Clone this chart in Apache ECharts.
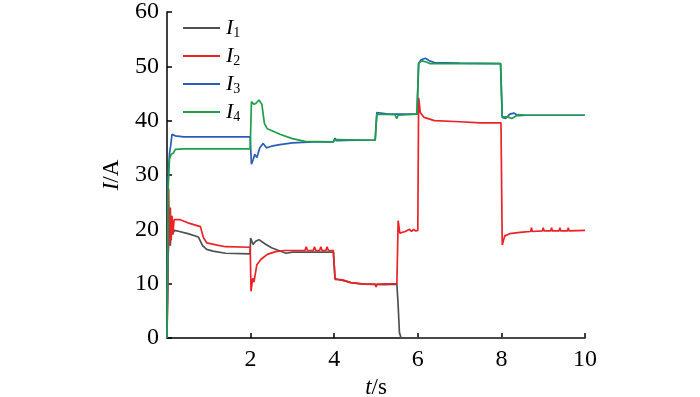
<!DOCTYPE html>
<html>
<head>
<meta charset="utf-8">
<style>
    html, body { margin: 0; padding: 0; background: #fff; }
    #chart { width: 700px; height: 397px; }
</style>
<script src="https://cdn.jsdelivr.net/npm/echarts@6/dist/echarts.min.js"></script>
</head>
<body>
<div id="chart"></div>
<script>
// 数据 [t(s), I(A)]
var seriesNames = ['I1', 'I2', 'I3', 'I4'];
var xTicks = [0, 2, 4, 6, 8, 10];
var yTicks = [0, 10, 20, 30, 40, 50, 60];

var i1Data = [
    [0, 0], [0.02, 14], [0.05, 19], [0.08, 17], [0.1, 20.5], [0.13, 19.2], [0.18, 19.8],
    [0.3, 19.6], [0.5, 19.2], [0.75, 18.6], [0.85, 17], [0.95, 16.3], [1.1, 16], [1.4, 15.6],
    [1.99, 15.5], [2.0, 18.4], [2.06, 17.2], [2.12, 17.8], [2.2, 18.1], [2.35, 17.3],
    [2.5, 16.6], [2.7, 16], [2.85, 15.6], [3.0, 15.8], [3.5, 15.8], [3.98, 15.8],
    [4.02, 10.9], [4.2, 10.6], [4.4, 10.2], [4.7, 9.9], [5.2, 9.8], [5.5, 9.9],
    [5.53, 6], [5.56, 1], [5.6, 0], [10, 0]
];
var i2Data = [
    [0, 0], [0.02, 10], [0.04, 27.5], [0.06, 17], [0.08, 24], [0.1, 18], [0.12, 22.5],
    [0.14, 19], [0.17, 21.8], [0.2, 21.5], [0.3, 21.8], [0.5, 21.2], [0.8, 20.5],
    [0.87, 18.5], [0.95, 17.5], [1.2, 17.1], [1.4, 16.8], [1.99, 16.7], [2.01, 8.6],
    [2.05, 11], [2.08, 10.3], [2.15, 13.5], [2.25, 14.5], [2.4, 15.4], [2.6, 15.9],
    [2.8, 16.1], [3.3, 16.1], [3.33, 16.8], [3.36, 16.1], [3.5, 16.1], [3.53, 16.8],
    [3.56, 16.1], [3.65, 16.1], [3.68, 16.8], [3.71, 16.1], [3.8, 16.1], [3.83, 16.8],
    [3.86, 16.1], [3.98, 16.1], [4.02, 10.8], [4.2, 10.7], [4.4, 10.2], [4.7, 9.9],
    [4.98, 9.9], [5.0, 9.4], [5.03, 9.9], [5.5, 10], [5.53, 21.6], [5.57, 19.3],
    [5.7, 19.6], [5.8, 20], [5.85, 19.6], [5.9, 20], [5.95, 19.7], [6.0, 19.8],
    [6.02, 44.2], [6.06, 41.5], [6.15, 40.6], [6.4, 40], [7, 39.8], [7.5, 39.6],
    [7.99, 39.6], [8.02, 17.1], [8.08, 18.8], [8.2, 19.2], [8.5, 19.5], [8.7, 19.6],
    [8.72, 20.3], [8.74, 19.6], [8.98, 19.7], [9.0, 20.3], [9.02, 19.7], [9.18, 19.7],
    [9.2, 20.3], [9.22, 19.7], [9.38, 19.7], [9.4, 20.3], [9.42, 19.7], [9.58, 19.7],
    [9.6, 20.3], [9.62, 19.7], [10, 19.8]
];
var i3Data = [
    [0, 0], [0.03, 30], [0.06, 34], [0.09, 35.5], [0.12, 37.5], [0.2, 37.2], [0.4, 37],
    [1.99, 37], [2.02, 32], [2.06, 32.8], [2.1, 33.8], [2.15, 33.2], [2.22, 35],
    [2.3, 35.8], [2.38, 35], [2.5, 35.3], [2.7, 35.6], [3.0, 35.9], [3.5, 36.1],
    [3.98, 36.1], [4.02, 36.8], [4.05, 36.3], [4.5, 36.4], [4.98, 36.4], [5.02, 41.5],
    [5.3, 41.2], [5.98, 41.2], [6.02, 50.5], [6.08, 51.2], [6.18, 51.5], [6.28, 51],
    [6.4, 50.7], [7, 50.6], [7.98, 50.5], [8.02, 40.6], [8.1, 40.4], [8.2, 41.2],
    [8.3, 41.4], [8.4, 40.9], [8.6, 41], [10, 41]
];
var i4Data = [
    [0, 0], [0.03, 28], [0.06, 33], [0.1, 33.8], [0.15, 34], [0.2, 34.7], [0.4, 34.8],
    [1.99, 34.8], [2.02, 43.5], [2.08, 43], [2.13, 43.2], [2.2, 43.8], [2.27, 43],
    [2.33, 39.5], [2.4, 38.5], [2.5, 38.2], [2.7, 37.5], [3.0, 36.7], [3.3, 36.2],
    [3.98, 36.1], [4.02, 36.5], [4.98, 36.4], [5.02, 41.2], [5.45, 41.1], [5.5, 40.4],
    [5.53, 41], [5.98, 41.2], [6.02, 50.6], [6.1, 51], [6.2, 50.8], [6.3, 50.5],
    [7, 50.5], [7.98, 50.5], [8.02, 40.7], [8.15, 40.7], [8.25, 40.4], [8.4, 41.1],
    [8.6, 41], [10, 41]
];

var colors = ['#505050', '#ec2227', '#2b5cb8', '#1d9e4b'];
var serifFont = '"Liberation Serif", "Times New Roman", serif';

var myChart = echarts.init(document.getElementById('chart'));

function axisBase() {
    return {
        type: 'value',
        splitLine: { show: false },
        axisLine: { lineStyle: { color: '#000', width: 1.5 } },
        axisTick: { inside: true, length: 5, lineStyle: { color: '#000', width: 1.5 } },
        axisLabel: { color: '#000', fontSize: 24, fontFamily: serifFont },
        nameTextStyle: {
            color: '#000', fontSize: 23, fontFamily: serifFont,
            rich: { i: { fontStyle: 'italic', fontSize: 23, fontFamily: serifFont, color: '#000' } }
        }
    };
}

var xAxis = axisBase();
xAxis.min = xTicks[0];
xAxis.max = xTicks[xTicks.length - 1];
xAxis.interval = 2;
xAxis.name = '{i|t}/s';
xAxis.nameLocation = 'middle';
xAxis.nameGap = 36;
xAxis.axisLabel.margin = 10;
xAxis.axisLabel.formatter = function (v) { return v === 0 ? '' : v; };

var yAxis = axisBase();
yAxis.min = yTicks[0];
yAxis.max = yTicks[yTicks.length - 1];
yAxis.interval = 10;
yAxis.name = '{i|I}/A';
yAxis.nameLocation = 'middle';
yAxis.nameRotate = 90;
yAxis.nameGap = 44;
yAxis.axisLabel.margin = 8;

var dataList = [i1Data, i2Data, i3Data, i4Data];
var series = seriesNames.map(function (n, k) {
    return {
        type: 'line',
        name: n,
        data: dataList[k],
        showSymbol: false,
        symbol: 'none',
        lineStyle: { width: 1.7, color: colors[k] },
        itemStyle: { color: colors[k] }
    };
});

myChart.setOption({
    animation: false,
    color: colors,
    grid: { left: 167, right: 115, top: 12, bottom: 59, outerBoundsMode: 'none' },
    //图例
    legend: {
        orient: 'vertical',
        left: 178,
        top: 11,
        icon: 'rect',
        itemWidth: 37,
        itemHeight: 2,
        itemGap: 4,
        data: seriesNames,
        formatter: function (name) {
            return '{i|I}{s|' + name.substring(1) + '}';
        },
        textStyle: {
            padding: [0, 0, 0, 1],
            rich: {
                i: { fontStyle: 'italic', fontSize: 22, fontFamily: serifFont, color: '#000', lineHeight: 22 },
                s: { fontSize: 14, fontFamily: serifFont, color: '#000', padding: [10, 0, 0, 0], lineHeight: 22 }
            }
        }
    },
    xAxis: xAxis,
    yAxis: yAxis,
    series: series
});
</script>
</body>
</html>
